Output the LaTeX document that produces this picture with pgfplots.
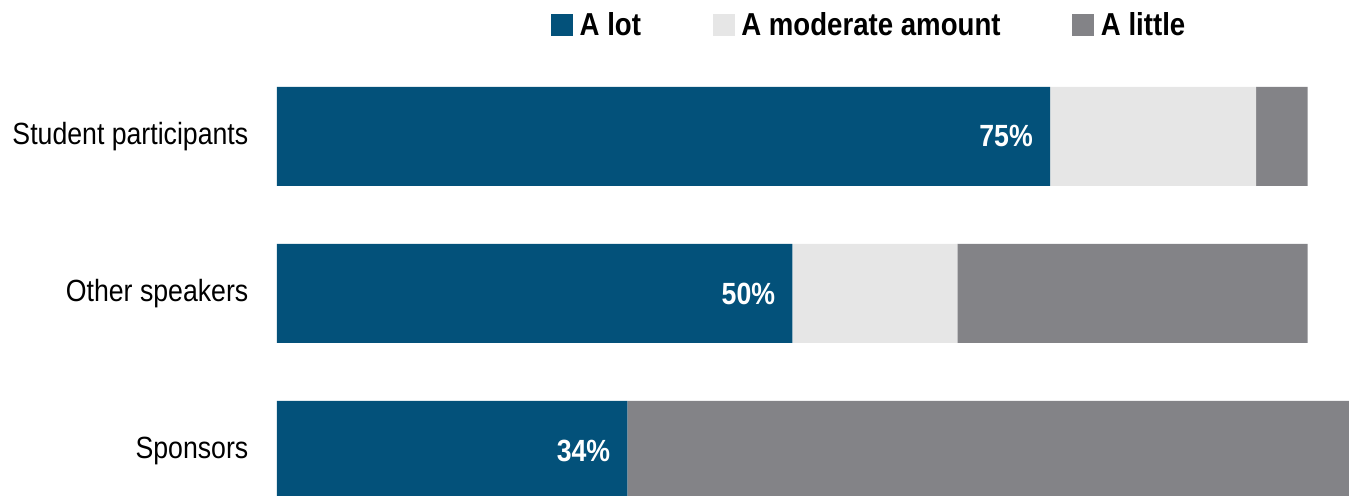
\documentclass[border=0pt]{standalone}
\usepackage{pgfplots}
\pgfplotsset{compat=1.18}
\usepackage{fontspec}
\setmainfont{Liberation Sans}[FakeStretch=0.87]
\definecolor{cblue}{HTML}{03517A}
\definecolor{clight}{HTML}{E6E6E6}
\definecolor{cdark}{HTML}{838387}
\def\px{0.75pt}
\begin{document}
\begin{tikzpicture}
\pgfplotstableread{
y lot moderate little
0 34 0 70
1 50 16 34
2 75 20 5
}\datatable
\begin{axis}[
  at={(0,0)}, anchor=south west,
  scale only axis,
  width=1073*\px, height=436*\px,
  xbar stacked,
  bar width=0.6306,
  xmin=0, xmax=104.1,
  ymin=-0.2898, ymax=2.487,
  axis line style={draw=none},
  xtick=\empty,
  ytick={0,1,2},
  yticklabels={Sponsors,Other speakers,Student participants},
  ytick style={draw=none},
  major tick length=0pt,
  y tick label style={font=\fontsize{23pt}{26pt}\selectfont, anchor=east, xshift=-24*\px},
  legend columns=3,
  legend style={draw=none, fill=none, at={(0.5522,1.0803)}, anchor=center,
    font=\fontsize{23.8pt}{26pt}\selectfont\bfseries,
    /tikz/every odd column/.append style={column sep=4*\px},
    /tikz/every even column/.append style={column sep=69*\px}},
  legend image code/.code={\fill[#1] (0,-11*\px) rectangle (22*\px,11*\px);},
]
\addplot[fill=cblue, draw=none,
  visualization depends on={rawx \as \lotval},
  nodes near coords={\pgfmathprintnumber[assume math mode=true,fixed,precision=0]{\lotval}\%},
  nodes near coords style={anchor=east, inner sep=0pt, xshift={\lotval*3.8652pt-12.75pt}, text=white, font=\fontsize{23pt}{26pt}\selectfont\bfseries}
] table[x=lot, y=y] {\datatable};
\addplot[fill=clight, draw=none] table[x=moderate, y=y] {\datatable};
\addplot[fill=cdark, draw=none] table[x=little, y=y] {\datatable};
\legend{A lot, A moderate amount, A little}
\end{axis}
\pgfresetboundingbox
\path (-277*\px,0) rectangle (1073*\px,496*\px);
\end{tikzpicture}
\end{document}
